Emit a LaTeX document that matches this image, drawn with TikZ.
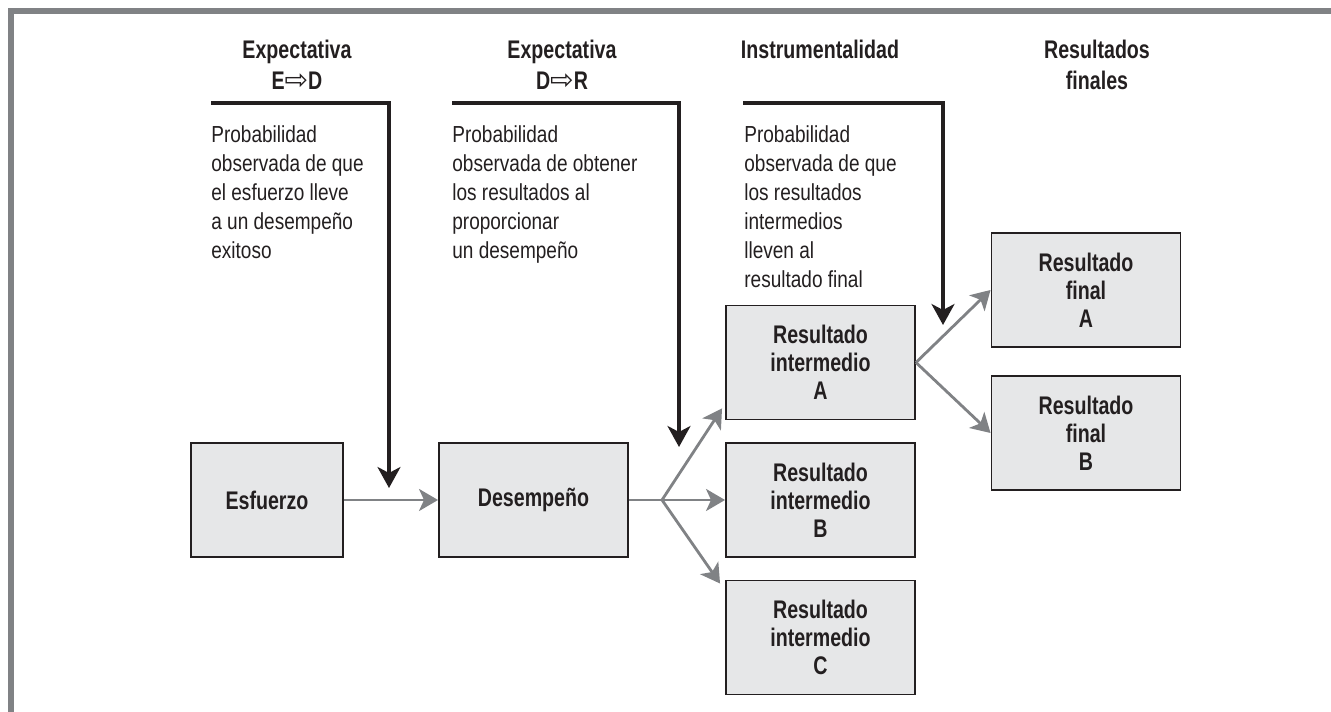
\documentclass[tikz,border=0pt]{standalone}
\usepackage{fontspec}
\setmainfont{Liberation Sans}[FakeStretch=0.82]
\newfontfamily\fuentecond{Liberation Sans}[FakeStretch=0.77]
\newfontfamily\fuentesimb{DejaVu Sans}
\usetikzlibrary{arrows.meta,calc}

\definecolor{grisflecha}{HTML}{808285}
\definecolor{grisfondo}{HTML}{E6E7E8}
\definecolor{negro}{HTML}{231F20}

\tikzstyle{every node}=[font=\fontsize{13.2pt}{16.5pt}\selectfont, text=negro]

\begin{document}
\begin{tikzpicture}[
    caja/.style={draw=negro, fill=grisfondo, line width=1.1pt, minimum width=3.78cm,
        minimum height=2.28cm, inner sep=0pt, align=center,
        font=\fuentecond\bfseries\fontsize{14.5pt}{16pt}\selectfont},
    titulo/.style={anchor=north, inner sep=0pt, align=center,
        font=\fuentecond\bfseries\fontsize{14.5pt}{17.6pt}\selectfont},
    texto/.style={anchor=north west, inner sep=0pt, align=left},
    flechagris/.style={draw=grisflecha, line width=1.6pt,
        -{Stealth[length=0.38cm,width=0.44cm,inset=0.1cm]}},
    flechanegra/.style={draw=negro, line width=1.8pt,
        -{Stealth[length=0.42cm,width=0.46cm,inset=0.12cm]}}
]
    \useasboundingbox (0,0) rectangle (26.62,14.24);

    % Marco
    \draw[grisflecha, line width=0.12cm] (0.22,0) -- (0.22,14.02) -- (26.62,14.02);

    % Encabezados
    \node[titulo] (t1) at (5.94,13.44) {Expectativa\\E{\fuentesimb\mdseries\fontsize{16pt}{16pt}\selectfont ⇨}D};
    \node[titulo] (t2) at (11.24,13.44) {Expectativa\\D{\fuentesimb\mdseries\fontsize{16pt}{16pt}\selectfont ⇨}R};
    \node[titulo] (t3) at (16.40,13.44) {Instrumentalidad};
    \node[titulo] (t4) at (21.94,13.44) {Resultados\\finales};

    % Textos
    \node[texto] (p1) at (4.22,11.74) {Probabilidad\\observada de que\\el esfuerzo lleve\\a un desempeño\\exitoso};
    \node[texto] (p2) at (9.04,11.74) {Probabilidad\\observada de obtener\\los resultados al\\proporcionar\\un desempeño};
    \node[texto] (p3) at (14.88,11.74) {Probabilidad\\observada de que\\los resultados\\intermedios\\lleven al\\resultado final};

    % Cajas
    \node[caja, minimum width=3.04cm] (esf) at (5.34,4.24) {Esfuerzo};
    \node[caja] (des) at (10.67,4.24) {Desempeño};
    \node[caja] (ria) at (16.41,6.99) {Resultado\\intermedio\\A};
    \node[caja] (rib) at (16.41,4.24) {Resultado\\intermedio\\B};
    \node[caja] (ric) at (16.41,1.49) {Resultado\\intermedio\\C};
    \node[caja] (rfa) at (21.72,8.44) {Resultado\\final\\A};
    \node[caja] (rfb) at (21.72,5.58) {Resultado\\final\\B};

    % Flechas grises
    \coordinate (bif) at (13.24,4.24);
    \draw[flechagris] (esf.east) -- (des.west);
    \draw[grisflecha, line width=1.6pt] (des.east) -- (bif);
    \draw[flechagris] (bif) -- ($(ria.south west)+(-0.06,0.24)$);
    \draw[flechagris] (bif) -- (rib.west);
    \draw[flechagris] (bif) -- ($(ric.north west)+(-0.1,-0.08)$);
    \draw[flechagris] (ria.east) -- (rfa.west);
    \draw[flechagris] (ria.east) -- (rfb.west);

    % Flechas negras
    \coordinate (n1) at (7.78,4.48);
    \coordinate (n2) at (13.58,5.30);
    \coordinate (n3) at (18.86,7.74);
    \draw[flechanegra] ($(p1.north west)+(0,0.44)$) -| (n1);
    \draw[flechanegra] ($(p2.north west)+(0,0.44)$) -| (n2);
    \draw[flechanegra] ($(p3.north west)+(-0.02,0.44)$) -| (n3);
\end{tikzpicture}
\end{document}
